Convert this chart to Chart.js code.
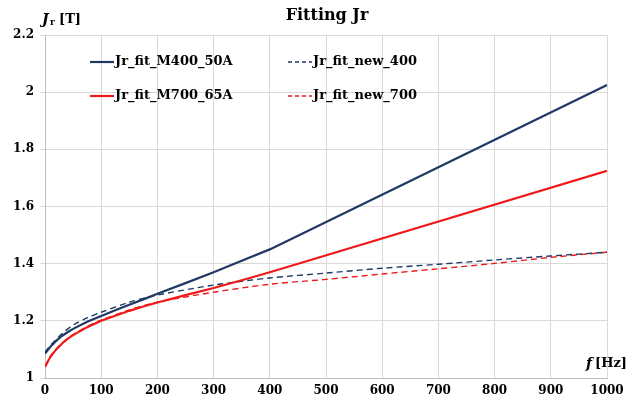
<!DOCTYPE html>
<html>
<head>
<meta charset="utf-8">
<script src="https://cdn.jsdelivr.net/npm/chart.js@4"></script>
<style>
  html, body { margin: 0; padding: 0; background: #fff; }
  #wrap { width: 637px; height: 401px; }
</style>
</head>
<body>
<div id="wrap"><canvas id="my-chart" width="637" height="401"></canvas></div>
<script>
var freqSolid = [0, 5, 10, 20, 30, 40, 50, 75, 100, 125, 150, 175, 200, 250, 300, 350, 400, 1000];
var m400 = [1.085, 1.098, 1.11, 1.13, 1.147, 1.16, 1.172, 1.197, 1.217, 1.237, 1.256, 1.275, 1.295, 1.332, 1.37, 1.41, 1.45, 2.025];
var m700 = [1.038, 1.058, 1.075, 1.1, 1.12, 1.137, 1.15, 1.178, 1.2, 1.218, 1.235, 1.25, 1.264, 1.29, 1.315, 1.342, 1.37, 1.725];

var freqNew = [0, 10, 20, 30, 50, 75, 100, 150, 200, 300, 400, 500, 600, 700, 800, 900, 1000];
var new400 = [1.09, 1.115, 1.135, 1.155, 1.185, 1.21, 1.23, 1.265, 1.29, 1.325, 1.35, 1.367, 1.384, 1.398, 1.413, 1.427, 1.44];
var new700 = [1.04, 1.077, 1.102, 1.122, 1.152, 1.18, 1.202, 1.238, 1.265, 1.3, 1.328, 1.345, 1.364, 1.382, 1.401, 1.422, 1.44];

var xTicks = [0, 100, 200, 300, 400, 500, 600, 700, 800, 900, 1000];
var yTicks = [1, 1.2, 1.4, 1.6, 1.8, 2, 2.2];

var navy = '#203864';
var red = '#f01818';
var fontFam = '"DejaVu Serif", serif';

function pts(xs, ys) {
    return xs.map(function (x, i) { return { x: x, y: ys[i] }; });
}

// title, axis names and legend drawn on the canvas
var extras = {
    id: 'extras',
    afterDraw: function (chart) {
        var c = chart.ctx;
        c.save();
        c.fillStyle = '#000';
        c.textBaseline = 'middle';
        c.font = 'bold 16px ' + fontFam;
        c.textAlign = 'center';
        c.fillText('Fitting Jr', 327, 16);

        c.textAlign = 'left';
        c.font = 'italic bold 14px ' + fontFam;
        c.fillText('J', 42, 20);
        c.font = 'bold 9px ' + fontFam;
        c.fillText('r', 50, 23);
        c.font = 'bold 13px ' + fontFam;
        c.fillText('[T]', 59, 20);

        c.font = 'italic bold 14px ' + fontFam;
        c.fillText('f', 586, 364);
        c.font = 'bold 13px ' + fontFam;
        c.fillText('[Hz]', 595, 364);

        var pos = [[90, 62], [90, 96], [288, 62], [288, 96]];
        chart.data.datasets.forEach(function (ds, i) {
            var p = pos[i];
            c.beginPath();
            c.strokeStyle = ds.borderColor;
            c.lineWidth = ds.borderWidth;
            c.setLineDash(ds.borderDash ? [4, 3] : []);
            c.moveTo(p[0], p[1]);
            c.lineTo(p[0] + 24, p[1]);
            c.stroke();
            c.setLineDash([]);
            c.font = 'bold 13px ' + fontFam;
            c.fillText(ds.label, p[0] + 25, p[1]);
        });
        c.restore();
    }
};

var ctx = document.getElementById('my-chart');
var myChart = new Chart(ctx, {
    type: 'scatter',
    data: {
        datasets: [
            { label: 'Jr_fit_M400_50A', data: pts(freqSolid, m400), borderColor: navy, borderWidth: 2.2, showLine: true, pointRadius: 0, tension: 0 },
            { label: 'Jr_fit_M700_65A', data: pts(freqSolid, m700), borderColor: red, borderWidth: 2.2, showLine: true, pointRadius: 0, tension: 0 },
            { label: 'Jr_fit_new_400', data: pts(freqNew, new400), borderColor: navy, borderWidth: 1.4, borderDash: [6, 4], showLine: true, pointRadius: 0, tension: 0.3 },
            { label: 'Jr_fit_new_700', data: pts(freqNew, new700), borderColor: red, borderWidth: 1.4, borderDash: [6, 4], showLine: true, pointRadius: 0, tension: 0.3 }
        ]
    },
    options: {
        responsive: false,
        animation: false,
        layout: { padding: { top: 35, right: 30, left: 0, bottom: 0 } },
        plugins: {
            legend: { display: false },
            title: { display: false },
            tooltip: { enabled: false }
        },
        scales: {
            x: {
                type: 'linear',
                min: 0, max: 1000,
                afterBuildTicks: function (s) { s.ticks = xTicks.map(function (v) { return { value: v }; }); },
                afterFit: function (s) { s.height = 23; },
                grid: { color: '#d9d9d9', tickLength: 0 },
                border: { color: '#bfbfbf' },
                ticks: {
                    color: '#000', padding: 6, maxRotation: 0,
                    font: { family: fontFam, weight: 'bold', size: 12 },
                    callback: function (v) { return String(v); }
                }
            },
            y: {
                min: 1, max: 2.2,
                afterBuildTicks: function (s) { s.ticks = yTicks.map(function (v) { return { value: v }; }); },
                afterFit: function (s) { s.width = 45; },
                grid: { color: '#d9d9d9', tickLength: 5 },
                border: { color: '#bfbfbf' },
                ticks: {
                    color: '#000', padding: 6,
                    font: { family: fontFam, weight: 'bold', size: 12 },
                    callback: function (v) { return String(Math.round(v * 10) / 10); }
                }
            }
        }
    },
    plugins: [extras]
});
</script>
</body>
</html>
